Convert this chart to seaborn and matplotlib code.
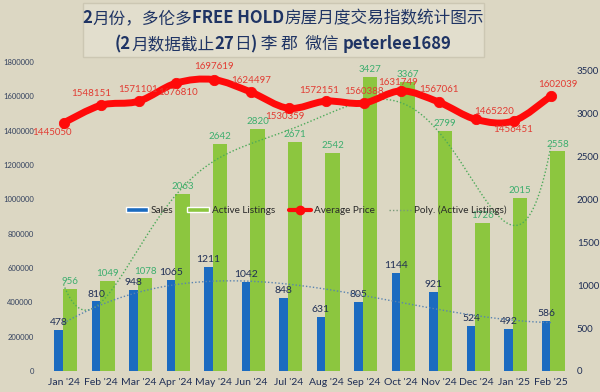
import numpy as np
import pandas as pd
import matplotlib
matplotlib.use("Agg")
import matplotlib.pyplot as plt
import seaborn as sns
from matplotlib.patches import Rectangle, Patch, PathPatch
from matplotlib.lines import Line2D
from matplotlib.path import Path
from matplotlib.offsetbox import TextArea, HPacker, VPacker, AnnotationBbox

# ---------------- data ----------------
months = ["Jan '24", "Feb '24", "Mar '24", "Apr '24", "May '24", "Jun '24", "Jul '24",
          "Aug '24", "Sep '24", "Oct '24", "Nov '24", "Dec '24", "Jan '25", "Feb '25"]
sales = [478, 810, 948, 1065, 1211, 1042, 848, 631, 805, 1144, 921, 524, 492, 586]
active = [956, 1049, 1078, 2063, 2642, 2820, 2671, 2542, 3427, 3367, 2799, 1726, 2015, 2558]
price = [1445050, 1548151, 1571101, 1676810, 1697619, 1624497, 1530359,
         1572151, 1560388, 1631749, 1567061, 1465220, 1456451, 1602039]
left_ticks = [0, 200000, 400000, 600000, 800000, 1000000, 1200000, 1400000, 1600000, 1800000]
right_ticks = [0, 500, 1000, 1500, 2000, 2500, 3000, 3500]

# label offsets for price labels (pixels) - styling only
price_offsets = [(-12, -10), (-10, 12), (0, 12), (2, -9), (0, 13), (0, 12), (-4, -8),
                 (-7, 11), (0, 12), (-3, 8), (0, 12), (18, 8), (0, -9), (7, 11)]

BG = "#DCD7C3"
BLUE = "#1B6BC0"
GREEN = "#8CC63F"
RED = "#FF0A0A"
LBL_GREEN = "#3DAE6E"
NAVY = "#1F2E55"

sns.set_theme(style="white")
plt.rcParams["font.family"] = ["Lato", "DejaVu Sans"]

df = pd.DataFrame({"month": months, "sales": sales, "active": active, "price": price})

fig = plt.figure(figsize=(6, 3.92), dpi=100, facecolor=BG)
ax = fig.add_axes([44.75 / 600, 21 / 392, 525 / 600, 309 / 392])
ax.set_facecolor(BG)

# bars (right axis scale)
sns.barplot(data=df, x="month", y="active", color=GREEN, width=0.39, saturation=1,
            ax=ax, order=months, linewidth=0, edgecolor=GREEN)
n0 = len(ax.patches)
for p in ax.patches[:n0]:
    p.set_x(p.get_x() + 0.175)
sns.barplot(data=df, x="month", y="sales", color=BLUE, width=0.23, saturation=1,
            ax=ax, order=months, linewidth=0, edgecolor=BLUE)
for p in ax.patches[n0:]:
    p.set_x(p.get_x() - 0.135)

ax.bar_label(ax.containers[0], labels=[str(v) for v in active], padding=2,
             color=LBL_GREEN, fontsize=7)
ax.bar_label(ax.containers[1], labels=[str(v) for v in sales], padding=2,
             color=NAVY, fontsize=7.5)

# trend lines (least-squares fits of the series)
idx = np.arange(len(months))
coef_a = np.polyfit(idx, active, 6)
xs = np.linspace(0, len(months) - 1, 300)
sns.lineplot(x=xs, y=np.polyval(coef_a, xs), ax=ax, color="#4DAA5A", lw=1,
             linestyle=(0, (1, 1.5)), zorder=5)
coef_s = np.polyfit(idx, sales, 3)
sns.lineplot(x=xs, y=np.polyval(coef_s, xs), ax=ax, color="#5A84B0", lw=1,
             linestyle=(0, (1, 1.5)), zorder=5)

ax.set_xlim(-0.5, len(months) - 0.5)
ax.set_ylim(0, 3600)
ax.set_xticks(idx)
ax.set_xticklabels(months, fontsize=7.5, color=NAVY)
ax.set_xlabel("")
ax.set_ylabel("")
for s in ax.spines.values():
    s.set_visible(False)

# price on left axis
ax2 = ax.twinx()
ax2.set_ylim(0, 1800000)
ax2.yaxis.tick_left()
ax2.yaxis.set_label_position("left")
ax2.set_yticks(left_ticks)
ax2.set_yticklabels([str(t) for t in left_ticks], fontsize=5.5, color="#33415E")
ax2.tick_params(length=0, pad=8)
for s in ax2.spines.values():
    s.set_visible(False)

# right axis for counts
ax.yaxis.tick_right()
ax.yaxis.set_label_position("right")
ax.set_yticks(right_ticks)
ax.set_yticklabels([str(t) for t in right_ticks], fontsize=7, color=NAVY)
ax.tick_params(length=0, pad=5)

# smooth curve through the price points (rendering only)
pts = np.column_stack([idx, price]).astype(float)
verts = [tuple(pts[0])]
codes = [Path.MOVETO]
n = len(pts)
for i in range(n - 1):
    p0 = pts[i - 1] if i > 0 else pts[i]
    p1 = pts[i]
    p2 = pts[i + 1]
    p3 = pts[i + 2] if i + 2 < n else pts[i + 1]
    c1 = p1 + (p2 - p0) / 6.0
    c2 = p2 - (p3 - p1) / 6.0
    verts += [tuple(c1), tuple(c2), tuple(p2)]
    codes += [Path.CURVE4] * 3
ax2.add_patch(PathPatch(Path(verts, codes), fill=False, edgecolor=RED, lw=5,
                        capstyle="round", joinstyle="round", zorder=3))
sns.scatterplot(x=idx, y=price, ax=ax2, color=RED, s=55, edgecolor=RED, zorder=4)
for i, v in enumerate(price):
    ax2.annotate(str(v), (idx[i], v), xytext=price_offsets[i], textcoords="offset pixels",
                 ha="center", va="center", color="#E23B32", fontsize=7)
ax2.set_xlim(-0.5, len(months) - 0.5)

# legend
handles = [Patch(facecolor=BLUE), Patch(facecolor=GREEN),
           Line2D([], [], color=RED, lw=3, marker="o", markersize=6),
           Line2D([], [], color="#7A9A7A", lw=1, linestyle=(0, (1, 1.5)))]
labels = ["Sales", "Active Listings", "Average Price", "Poly. (Active Listings)"]
leg = fig.legend(handles, labels, loc="center", bbox_to_anchor=(0.527, 1 - 210 / 392),
                 ncol=4, frameon=False, fontsize=7.2, handlelength=2.2,
                 handleheight=0.45, columnspacing=1.4, handletextpad=0.3)
for t in leg.get_texts():
    t.set_color("#2A2A2A")

# title box
fig.add_artist(Rectangle((83 / 600, 1 - 57 / 392), 401 / 600, 54 / 392,
                         transform=fig.transFigure, facecolor="#E2DECD",
                         edgecolor="#CCC7B3", lw=1, zorder=0))

def seg(text, bold):
    return TextArea(text, textprops=dict(fontsize=12, color="#1F3464",
                                         fontfamily=["Noto Sans CJK SC", "DejaVu Sans"],
                                         fontweight="bold" if bold else "normal"))

line1 = HPacker(children=[seg("2", True), seg("月份，多伦多", False), seg("FREE HOLD", True),
                          seg("房屋月度交易指数统计图示", False)], align="baseline", pad=0, sep=0)
line2 = HPacker(children=[seg("(2", True), seg("月数据截止", False), seg("27", True),
                          seg("日", False), seg(")", True), seg(" 李 郡  微信 ", False),
                          seg("peterlee1689", True)], align="baseline", pad=0, sep=0)
block = VPacker(children=[line1, line2], align="center", pad=0, sep=6)
ab = AnnotationBbox(block, (283 / 600, 1 - 31 / 392), xycoords="figure fraction",
                    frameon=False, box_alignment=(0.5, 0.5), zorder=10)
fig.add_artist(ab)

fig.savefig("out.png", dpi=100, facecolor=BG)
